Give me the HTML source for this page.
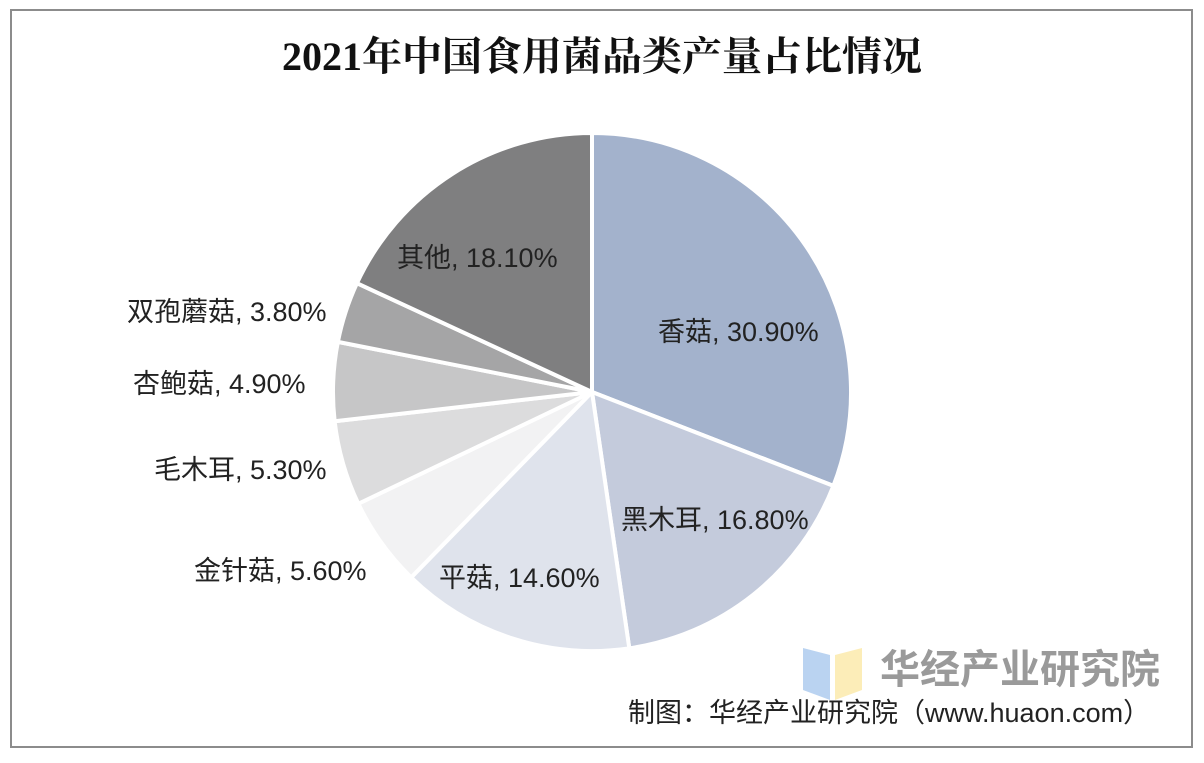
<!DOCTYPE html>
<html><head><meta charset="utf-8"><style>
body{margin:0;background:#fff;width:1204px;height:758px;overflow:hidden}
</style></head><body>
<svg id="s" width="1204" height="758" xmlns="http://www.w3.org/2000/svg" font-family="Liberation Sans, Noto Sans CJK SC, sans-serif">
<rect x="11" y="10" width="1181" height="737" fill="#fff" stroke="#8c8c8c" stroke-width="2"/>
<text x="602" y="70" text-anchor="middle" font-family="Liberation Serif, Noto Serif CJK SC, serif" font-weight="bold" font-size="40" fill="#111">2021年中国食用菌品类产量占比情况</text>
<g id="pie"></g>
<g font-size="27" fill="#222">
<text x="658" y="341">香菇, 30.90%</text>
<text x="621" y="529">黑木耳, 16.80%</text>
<text x="439" y="587">平菇, 14.60%</text>
<text x="194" y="580">金针菇, 5.60%</text>
<text x="154" y="479">毛木耳, 5.30%</text>
<text x="133" y="393">杏鲍菇, 4.90%</text>
<text x="127" y="321">双孢蘑菇, 3.80%</text>
<text x="397" y="267">其他, 18.10%</text>
</g>
<polygon points="803,648 830,655 830,700 803,690" fill="#a9c8ee" opacity="0.8"/>
<polygon points="835,655 862,648 862,690 835,700" fill="#fbe9a6" opacity="0.8"/>
<text x="880" y="683" font-size="40" fill="#9a9a9a" font-weight="bold">华经产业研究院</text>
<text x="628" y="722" font-size="27" fill="#222">制图：华经产业研究院（www.huaon.com）</text>
</svg>
<script>
var d=[[30.9,"#a3b2cc"],[16.8,"#c4cbdc"],[14.6,"#dfe3ec"],[5.6,"#f2f2f3"],[5.3,"#dcdcdd"],[4.9,"#c6c6c7"],[3.8,"#a5a5a6"],[18.1,"#7f7f80"]];
var cx=592,cy=392,r=259,a=0,g=document.getElementById("pie"),h="";
d.forEach(function(e){var a2=a+e[0]/100*2*Math.PI;
var x1=cx+r*Math.sin(a),y1=cy-r*Math.cos(a),x2=cx+r*Math.sin(a2),y2=cy-r*Math.cos(a2);
h+='<path d="M'+cx+','+cy+'L'+x1+','+y1+'A'+r+','+r+' 0 '+(a2-a>Math.PI?1:0)+' 1 '+x2+','+y2+'Z" fill="'+e[1]+'" stroke="#fff" stroke-width="4" stroke-linejoin="round"/>';a=a2;});
g.innerHTML=h;
</script>
</body></html>
